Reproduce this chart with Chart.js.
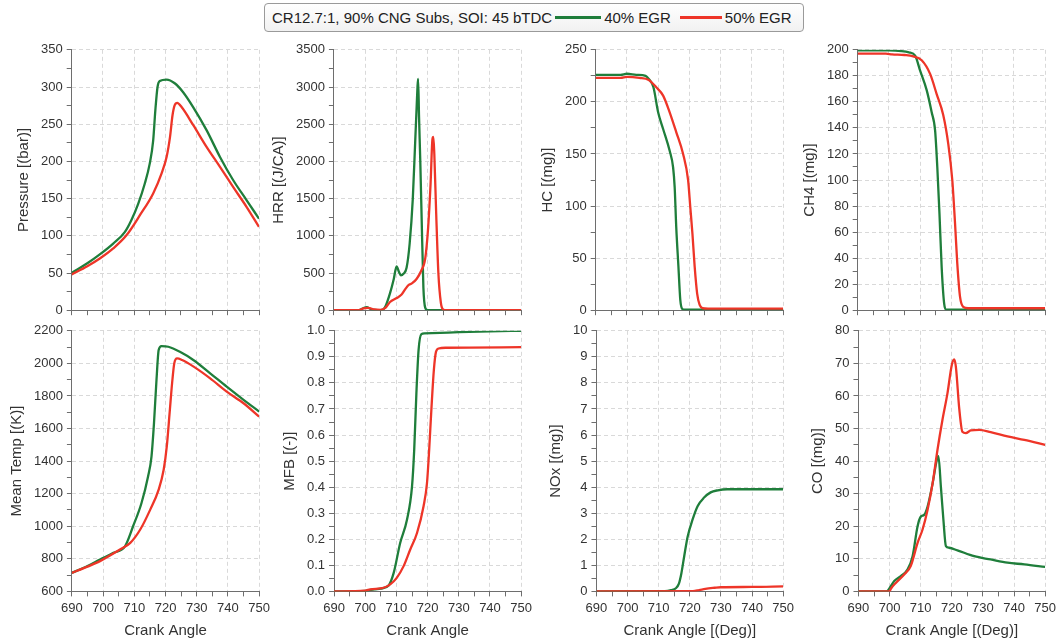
<!DOCTYPE html>
<html>
<head>
<meta charset="utf-8">
<title>CR12.7:1, 90% CNG Subs, SOI: 45 bTDC</title>
<script src="https://cdn.jsdelivr.net/npm/chart.js@4.4.1/dist/chart.umd.min.js"></script>
<style>
  body { margin: 0; width: 1060px; height: 640px; position: relative; overflow: hidden; background: #fff;
         font-family: "Liberation Sans", Arial, sans-serif; }
  .panel { position: absolute; }
  #legend { position: absolute; left: 264px; top: 3px; width: 540px; height: 29px; box-sizing: border-box;
            border: 1px solid #9a9a9a; border-radius: 4px; background: linear-gradient(#ffffff, #f1f1f1);
            display: flex; align-items: center; padding-left: 7px; font-size: 15px; color: #222; white-space: nowrap; }
  #legend .sw { display: inline-block; height: 3px; margin: 0 3px; }
</style>
</head>
<body>
<div id="legend">
  <span>CR12.7:1, 90% CNG Subs, SOI: 45 bTDC</span>
  <span class="sw" style="width:46px;background:#1f7e3b"></span><span>40% EGR</span>
  <span class="sw" style="width:42px;background:#ee3528;margin-left:9px"></span><span>50% EGR</span>
</div>
<script>
// crank angle [deg], value pairs for each run
const pres40 = [[690,50],[695,63],[699,75],[703.3,89.6],[707,105],[709.1,121],[711.3,143],[713.4,170],[715,197],[716.1,228],[716.8,269],[717.5,300],[718.2,308],[720.4,310],[723,305],[725.7,293],[728.9,273],[733.2,242],[737.5,206],[741.7,175],[746,148],[750,123]];
const pres50 = [[690,48],[695,59],[699,69.4],[703.3,83],[707.6,101],[711.9,128],[716.1,157],[718.8,184],[720.4,206],[721.5,233],[722.3,262],[723,275.5],[723.8,278.6],[725.2,273],[728.9,249],[733.2,219.5],[737.5,192.6],[741.7,165.7],[746,139],[750,112]];

const hrr40 = [[690,0],[698,0],[699.5,30],[700.5,40],[702,10],[704,0],[705.5,5],[706.5,50],[708,230],[709.2,420],[710.1,590],[710.8,520],[711.5,470],[712.3,490],[713.3,570],[714.3,900],[715.3,1500],[716.1,2300],[716.5,2700],[716.8,3000],[717,3110],[717.3,2600],[717.7,2000],[718.1,1300],[718.7,300],[719.3,30],[720,0],[750,0]];
const hrr50 = [[690,0],[698,0],[699.5,25],[701,30],[703,10],[705,5],[706.5,30],[708,110],[710,160],[711.7,210],[713,290],[714,340],[715,360],[716.5,420],[718,530],[719.3,700],[720.2,1100],[721,1700],[721.6,2300],[721.9,2330],[722.2,2100],[722.8,1300],[723.5,500],[724.3,100],[725,10],[726,0],[750,0]];

const hc40 = [[690,226],[698,226],[700,227],[703,226],[706,225],[707,222],[708.5,214],[710,190],[711.6,174],[713.7,153],[714.8,137],[715.3,118],[715.8,80],[716.5,42],[717.1,10],[717.8,1],[718.5,0.5],[750,0.5]];
const hc50 = [[690,223],[698,223],[700,224],[704,223],[707,221],[709.4,214],[711.6,206],[713.7,190],[715.8,171],[718,150],[719.6,125],[720.3,99],[721,73],[721.7,42],[722.5,16],[723.3,5],[724.2,2],[726,1.5],[750,1.5]];

const ch440 = [[690,199.5],[700,199.5],[704,199],[706.4,198],[708.4,195.5],[710,184],[712.1,169],[713.7,152],[714.8,138],[715.5,110],[716.2,74],[716.9,33],[717.7,5],[718.3,0.5],[750,0.5]];
const ch450 = [[690,197],[699,197],[701,196.5],[705,196],[707.8,195],[710.5,192],[713.2,181.5],[715.3,166],[717.4,150],[719,128],[720.3,100],[721.2,66],[721.9,36],[722.8,10],[723.8,2.6],[725.4,1.5],[750,1.5]];

const temp40 = [[690,714],[695,756],[699,796],[703.3,837],[707,877],[709.6,1000],[712.3,1143],[714.4,1306],[715.5,1428],[716.3,1633],[717.1,1898],[717.8,2082],[718.7,2106],[720.9,2102],[724.6,2071],[728.9,2021],[734.3,1939],[739.6,1857],[745,1776],[750,1704]];
const temp50 = [[690,714],[695,752],[699,786],[705.4,857],[708.7,898],[711.9,980],[715.1,1102],[717.8,1225],[719.4,1347],[720.4,1490],[721.3,1694],[722.1,1878],[722.8,2000],[723.7,2031],[725.3,2021],[729,1980],[734.3,1908],[739.6,1827],[745,1755],[750,1673]];

const mfb40 = [[690,0],[700,0.002],[703,0.008],[705,0.011],[707.5,0.023],[709.1,0.07],[711.2,0.186],[713.4,0.276],[715,0.403],[715.7,0.543],[716.4,0.76],[717.1,0.926],[718,0.987],[719,0.99],[724,0.992],[730,0.995],[740,0.998],[750,1.0]];
const mfb50 = [[690,0],[700,0.003],[701.6,0.008],[705.9,0.014],[708,0.027],[710.1,0.052],[712.3,0.097],[714.4,0.16],[716.6,0.224],[718.7,0.327],[719.8,0.416],[720.5,0.543],[721.2,0.696],[722,0.849],[722.7,0.92],[723.5,0.932],[726,0.935],[750,0.937]];

const nox40 = [[690,0],[712,0.01],[714,0.05],[715.5,0.12],[716.5,0.3],[717.3,0.7],[718.2,1.35],[719.3,2.1],[720.9,2.76],[722.5,3.27],[724.6,3.6],[726.7,3.8],[729,3.88],[732,3.92],[750,3.92]];
const nox50 = [[690,0],[721,0.01],[723,0.05],[725,0.1],[728,0.14],[730,0.16],[740,0.17],[750,0.19]];

const co40 = [[690,0],[699,0],[700.4,1.6],[701.5,3.2],[703.6,4.7],[705.75,6.7],[707.4,10.8],[709,20],[710,22.9],[711.1,23.5],[712.2,26],[713.8,33],[715.2,40.4],[715.7,41.5],[716.5,32],[717.3,22],[718.1,13.9],[719.1,13.4],[721.8,12.6],[727.2,10.8],[732.5,9.8],[737.9,8.8],[743.3,8.3],[750,7.5]];
const co50 = [[690,0],[700,0],[700.4,0.8],[702,2.6],[704.7,5.2],[706.8,7.8],[709,14.9],[710.6,19],[712.2,25],[713.8,33],[715.4,43.5],[717,52.7],[718.6,60.8],[720,69.5],[720.75,71.2],[721.3,69],[722.4,56],[723.4,49],[724.5,48.6],[726.1,49.4],[728.8,49.6],[732.5,48.9],[737.9,47.6],[743.3,46.5],[750,45]];

const seriesNames = ['40% EGR', '50% EGR'];
const yTitles = ['Pressure [(bar)]', 'HRR [(J/CA)]', 'HC [(mg)]', 'CH4 [(mg)]',
                 'Mean Temp [(K)]', 'MFB [(-)]', 'NOx [(mg)]', 'CO [(mg)]'];
const xTitles = ['Crank Angle', 'Crank Angle', 'Crank Angle [(Deg)]', 'Crank Angle [(Deg)]'];
// [min, max, labelled step] for each y axis
const yRanges = [[0,350,50],[0,3500,500],[0,250,50],[0,200,20],
                 [600,2200,200],[0,1,0.1],[0,10,1],[0,80,10]];
const angleRange = [690, 750, 10];

const GREEN = '#1f7e3b', RED = '#ee3528';
const FONT = '"Liberation Sans", Arial, sans-serif';
const GRID = '#d9d9d9', AXIS = '#6e6e6e', TEXT = '#333';

// plot-area frames on the page
const colLeft = [72, 334, 596, 858], rowTop = [50, 331];
const plotW = 187, plotH = [260, 261];

const runs = [[pres40, pres50],[hrr40, hrr50],[hc40, hc50],[ch440, ch450],
              [temp40, temp50],[mfb40, mfb50],[nox40, nox50],[co40, co50]];

function onStep(v, step) {
  const r = v / step;
  return Math.abs(r - Math.round(r)) < 1e-6;
}

function axisFor(min, max, step, isX, showLabels, title, digits) {
  return {
    type: 'linear', min, max,
    ticks: {
      stepSize: step / 2, autoSkip: false, maxRotation: 0, display: showLabels,
      color: TEXT, padding: 4, font: { family: FONT, size: 13 },
      callback: v => onStep(v, step) ? (digits ? v.toFixed(digits) : String(Math.round(v))) : ''
    },
    grid: {
      color: ctx => onStep(ctx.tick.value, step) ? GRID : 'rgba(0,0,0,0)',
      tickColor: AXIS, tickLength: 5, lineWidth: 1
    },
    border: { color: AXIS, width: 1, dash: [4, 3] },
    title: { display: !!title, text: title || '', color: TEXT,
             font: { family: FONT, size: 15 }, padding: isX ? { top: 2, bottom: 0 } : { top: 0, bottom: 4 } }
  };
}

runs.forEach((pair, i) => {
  const row = Math.floor(i / 4), col = i % 4;
  const [ymin, ymax, ystep] = yRanges[i];
  const wrap = document.createElement('div');
  wrap.className = 'panel';
  document.body.appendChild(wrap);
  const canvas = document.createElement('canvas');
  canvas.width = 300; canvas.height = 320;
  wrap.appendChild(canvas);

  const chart = new Chart(canvas, {
    type: 'line',
    data: {
      datasets: pair.map((pts, k) => ({
        label: seriesNames[k],
        data: pts.map(([x, y]) => ({ x, y })),
        borderColor: k ? RED : GREEN,
        borderWidth: 2.3,
        pointRadius: 0,
        fill: false,
        cubicInterpolationMode: 'monotone',
        order: k ? 0 : 1
      }))
    },
    options: {
      responsive: false,
      maintainAspectRatio: false,
      animation: false,
      layout: { padding: { top: 10, right: 14, left: 2, bottom: 2 } },
      scales: {
        x: axisFor(angleRange[0], angleRange[1], angleRange[2], true, row === 1, row === 1 ? xTitles[col] : '', 0),
        y: axisFor(ymin, ymax, ystep, false, true, yTitles[i], i === 5 ? 1 : 0)
      },
      plugins: { legend: { display: false }, tooltip: { enabled: false } }
    }
  });

  // size the canvas so the plot area fills its frame, then slide it into place
  const a = chart.chartArea;
  const w = Math.round(canvas.width + plotW - (a.right - a.left));
  const h = Math.round(canvas.height + plotH[row] - (a.bottom - a.top));
  chart.resize(w, h);
  const b = chart.chartArea;
  wrap.style.left = Math.round(colLeft[col] - b.left) + 'px';
  wrap.style.top = Math.round(rowTop[row] - b.top) + 'px';
});
</script>
</body>
</html>
